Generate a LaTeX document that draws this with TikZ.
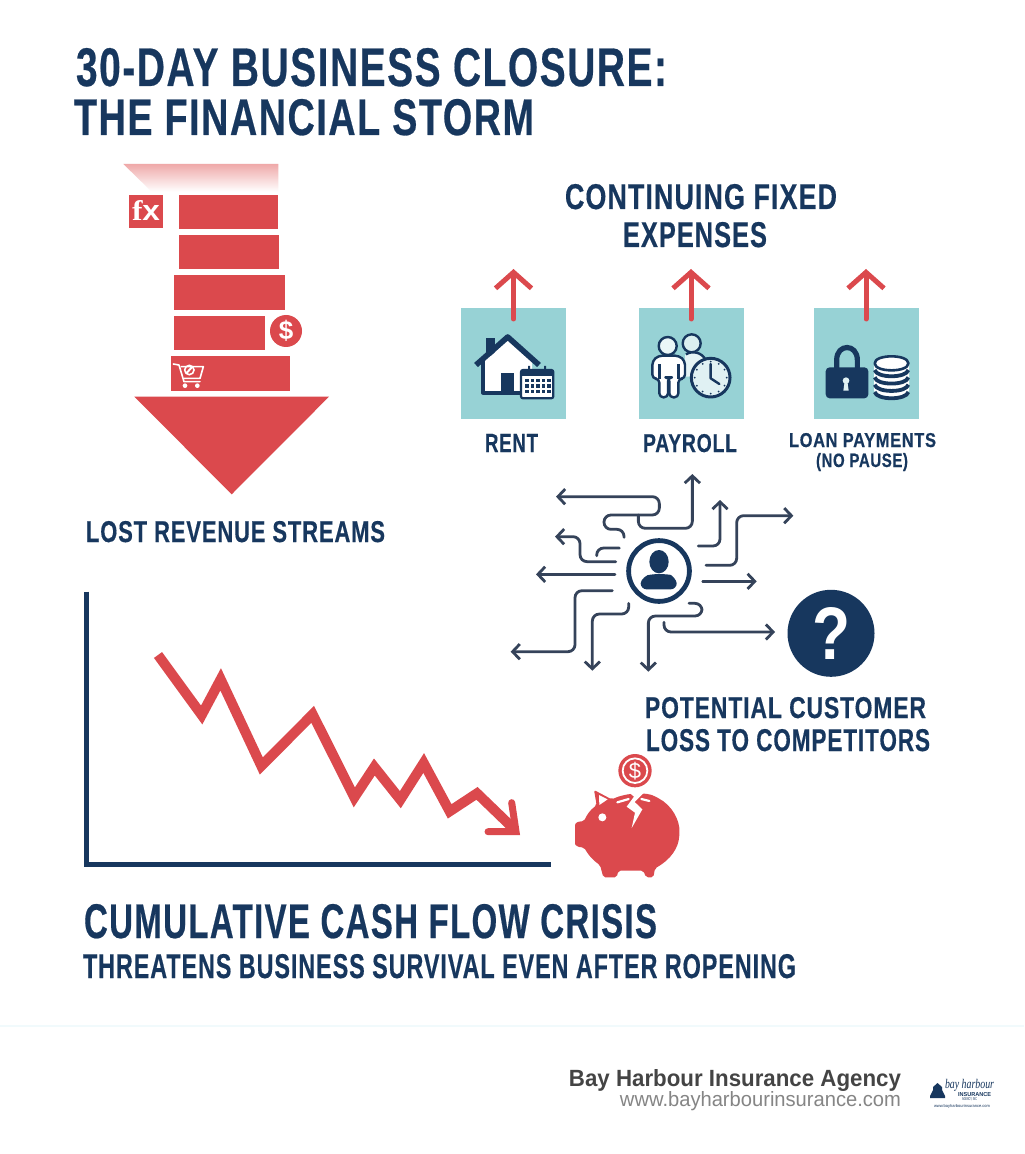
\documentclass[tikz,border=0pt]{standalone}
\usepackage{fontspec}
\usepackage{graphicx}
\setmainfont{Liberation Sans}[LetterSpace=4,BoldFeatures={FakeBold=0.5}]
\newfontfamily\plainf{Liberation Sans}
\newfontfamily\serifx{Liberation Serif}
\usetikzlibrary{arrows.meta}
\definecolor{navy}{HTML}{17375E}
\definecolor{redm}{HTML}{DB494D}
\definecolor{teal1}{HTML}{97D2D5}
\definecolor{slate}{HTML}{35435A}
\definecolor{foot}{HTML}{444444}
\definecolor{footl}{HTML}{858585}
\definecolor{pale}{HTML}{F1FAFC}
\definecolor{fade}{HTML}{EFA9A9}
\tikzset{
  lbl/.style={inner sep=0pt,outer sep=0pt,text=navy,anchor=base west},
  flow/.style={draw=slate,line width=1.4pt,rounded corners=3.5pt,line cap=round,-{Straight Barb[length=3.6pt,width=7.6pt]}},
  flowplain/.style={draw=slate,line width=1.4pt,rounded corners=3.5pt,line cap=round},
  uparrow/.style={draw=redm,line width=2.5pt,line cap=round,-{Straight Barb[length=8pt,width=18pt]}},
  sqbox/.style={fill=teal1,minimum width=52.5pt,minimum height=55.5pt,inner sep=0pt,outer sep=0pt},
  bar/.style={fill=redm},
}
\newcommand\ft[6]{\pgfmathsetmacro\ftw{(#3-#2)*0.5}\pgfmathsetmacro\fth{(#5-#4)*0.5}\node[lbl] (#1) at (#2,#5) {\resizebox{\ftw pt}{\fth pt}{\bfseries #6}};}
\begin{document}
\begin{tikzpicture}[x=0.5pt,y=-0.5pt]
\useasboundingbox (0,0) rectangle (1024,1154);
\fill[white] (0,0) rectangle (1024,1154);
\fill[pale] (0,1025) rectangle (1024,1027);
% titles
\ft{t1}{76}{667}{48}{86}{30-DAY BUSINESS CLOSURE:}
\ft{t2}{74}{534}{99}{135}{THE FINANCIAL STORM}
\ft{c1}{565}{837}{184}{209}{CONTINUING FIXED}
\ft{c2}{623}{767}{222}{247}{EXPENSES}
% falling revenue arrow
\shade[top color=fade,bottom color=white] (123.3,164) -- (278.3,164) -- (278.3,191.7) -- (151.7,191.7) -- cycle;
\fill[bar] (179,195) rectangle (278.3,229.3);
\fill[bar] (179.3,235.3) rectangle (278.7,269.3);
\fill[bar] (174,275.3) rectangle (285.3,310);
\fill[bar] (174,316) rectangle (264.7,350.3);
\fill[bar] (170.7,356.3) rectangle (290,391);
\fill[bar] (134.3,396.7) -- (329,396.7) -- (231.7,494.3) -- cycle;
\fill[bar] (128.7,194.7) rectangle (163.3,227.7);
\node[inner sep=0pt,text=white] (fx) at (146,211) {\resizebox{14pt}{10pt}{\serifx\bfseries f\plainf x}};
\node[circle,fill=redm,minimum size=16pt,inner sep=0pt] (dollar) at (286,331) {\textcolor{white}{\fontsize{13}{13}\selectfont\plainf\bfseries\$}};
% cart
\begin{scope}[shift={(110,150)},x=.16667pt,y=-.16667pt]
  \draw[white,line width=.8pt,line join=round,line cap=round] (190,642) -- (207,645) -- (222,695) -- (270,695);
  \draw[white,line width=.8pt,line join=round] (212,650) -- (280,650) -- (270,685) -- (222,685);
  \fill[white] (225,707) circle[radius=7] (262,707) circle[radius=7];
  \draw[white,line width=.8pt] (238,660) circle[radius=14];
  \draw[white,line width=1pt] (229,670) -- (247,650);
\end{scope}
\ft{lost}{86}{385}{521}{542}{LOST REVENUE STREAMS}
% expense boxes
\node[sqbox] (sq1) at (513.5,363.5) {};
\node[sqbox] (sq2) at (691,363.5) {};
\node[sqbox] (sq3) at (866,363.5) {};
\coordinate (up1) at (513.5,269);
\coordinate (up2) at (691,269);
\coordinate (up3) at (866,269);
\draw[uparrow] ([yshift=-5.5pt]sq1.north) -- (up1);
\draw[uparrow] ([yshift=-5.5pt]sq2.north) -- (up2);
\draw[uparrow] ([yshift=-5.5pt]sq3.north) -- (up3);
\ft{l1}{485}{538}{434}{452}{RENT}
\ft{l2}{643}{737}{434}{452}{PAYROLL}
\ft{l3}{789}{936}{433}{447}{LOAN PAYMENTS}
\ft{l4}{816}{908}{453}{467}{(NO PAUSE)}
% icons
\begin{scope}[line join=round]
  % house
  \fill[white] (483,392.7) -- (483,358) -- (507.7,338) -- (532,358) -- (532,392.7) -- cycle;
  \fill[navy] (486,338) rectangle (495,356);
  \fill[white] (484,362) -- (507.7,341) -- (530,362) -- cycle;
  \draw[navy,line width=2pt] (483,360) -- (483,392.7) -- (522,392.7);
  \draw[navy,line width=2.8pt] (476,365) -- (507.7,337) -- (539,365);
  \fill[navy] (501,373) rectangle (514,392.7);
  \fill[white] (521,370) rectangle (553.3,398.3);
  \draw[navy,line width=1.1pt,rounded corners=1pt] (521,370) rectangle (553.3,398.3);
  \fill[navy] (521,370) rectangle (553.3,376);
  \fill[navy] (528,366) rectangle (530,372) (544,366) rectangle (546,372);
  \foreach \cy in {380.5,386,391.5}{\foreach \cx in {527,532.5,538,543.5,549}{\fill[navy] (\cx-1.8,\cy-1.8) rectangle (\cx+1.8,\cy+1.8);}}
\end{scope}
\begin{scope}[shift={(440,260)},x=.16667pt,y=-.16667pt,line join=round]
  % second person
  \fill[teal1!35!white] (755,250) circle[radius=27];
  \draw[navy,line width=1.2pt] (755,250) circle[radius=27];
  \fill[teal1!25!white] (735,285) -- (770,275) .. controls (785,278) and (795,290) .. (798,310) -- (750,350) -- (735,350) -- cycle;
  \draw[navy,line width=1.2pt] (738,283) .. controls (755,272) and (785,275) .. (797,300);
  % first person
  \fill[teal1!20!white] (683,258) circle[radius=27];
  \draw[navy,line width=1.2pt] (683,258) circle[radius=27];
  \fill[white,draw=navy,line width=1.2pt,rounded corners=2pt] (655,287) -- (717,287) -- (735,303) -- (735,356) -- (715,356) -- (715,412) -- (688,412) -- (688,352) -- (684,352) -- (684,412) -- (658,412) -- (658,356) -- (637,356) -- (637,303) -- cycle;
  \draw[navy,line width=1.2pt] (658,312) -- (658,356) (715,312) -- (715,356);
  % clock
  \fill[teal1!30!white] (812,353) circle[radius=60];
  \draw[navy,line width=1.5pt] (812,353) circle[radius=58];
  \draw[navy,line width=1.2pt,line cap=round] (812,312) -- (812,355) -- (838,372);
  \foreach \a in {0,30,...,330}{\fill[navy] (812,353) ++(\a:48) circle[radius=3];}
  % lock
  \draw[navy,line width=2.6pt] (1190,330) -- (1190,300) .. controls (1190,250) and (1252,250) .. (1252,300) -- (1252,330);
  \fill[navy,rounded corners=2pt] (1157,322) rectangle (1285,415);
  \fill[teal1!30!white] (1218,362) circle[radius=10];
  \fill[teal1!30!white] (1214,364) -- (1222,364) -- (1226,392) -- (1210,392) -- cycle;
  % coins
  \fill[white] (1302,310) -- (1302,390) .. controls (1302,425) and (1407,425) .. (1407,390) -- (1407,310) .. controls (1407,280) and (1302,280) .. (1302,310) -- cycle;
  \draw[navy,line width=1.3pt] (1304,310) .. controls (1304,282) and (1405,282) .. (1405,310) .. controls (1405,338) and (1304,338) .. (1304,310) -- cycle;
  \foreach \yy in {330,352,374,396}{\draw[navy,line width=1.9pt] (1304,\yy) .. controls (1310,\yy+25) and (1399,\yy+25) .. (1405,\yy);}
\end{scope}
% customer network
\begin{scope}[shift={(500,460)},x=.16667pt,y=-.16667pt]
  \node[circle,draw=navy,line width=2.4pt,fill=white,minimum size=30.4pt,inner sep=0pt] (cust) at (477,333) {};
  \fill[navy] (477,305) ellipse[x radius=29,y radius=35];
  \fill[navy,rounded corners=3pt] (422,388) .. controls (422,355) and (445,345) .. (460,342) -- (494,342) .. controls (515,345) and (530,360) .. (530,388) -- cycle;
  \coordinate (a1) at (372,232); \coordinate (b1) at (168,110);
  \coordinate (a2) at (415,165); \coordinate (b2) at (577,42);
  \coordinate (a3) at (595,258); \coordinate (b3) at (660,120);
  \coordinate (a4) at (618,316); \coordinate (b4) at (880,167);
  \coordinate (a5) at (608,364); \coordinate (b5) at (770,364);
  \coordinate (a6) at (567,430); \coordinate (b6) at (445,635);
  \coordinate (a7) at (492,487); \coordinate (b7) at (825,516);
  \coordinate (a8) at (386,430); \coordinate (b8) at (277,632);
  \coordinate (a9) at (337,392); \coordinate (b9) at (32,575);
  \coordinate (a10) at (345,343); \coordinate (b10) at (108,343);
  \coordinate (a11) at (347,305); \coordinate (b11) at (165,230);
  \coordinate (a12) at (358,264); \coordinate (b12) at (290,287);
  \draw[flow] (a1) -- (372,208) -- (312,208) -- (312,165) -- (478,165) -- (478,110) -- (b1);
  \draw[flow] (a2) -- (415,205) -- (577,205) -- (b2);
  \draw[flow] (a3) -- (660,258) -- (b3);
  \draw[flow] (a4) -- (710,316) -- (710,167) -- (b4);
  \draw[flow] (a5) -- (b5);
  \draw[flow] (a6) -- (606,430) -- (606,468) -- (445,468) -- (b6);
  \draw[flow] (a7) -- (492,516) -- (b7);
  \draw[flow] (a8) -- (386,462) -- (277,462) -- (b8);
  \draw[flow] (a9) -- (225,392) -- (225,575) -- (b9);
  \draw[flow] (a10) -- (b10);
  \draw[flow] (a11) -- (240,305) -- (240,230) -- (b11);
  \draw[flowplain] (a12) -- (290,264) -- (b12);
\end{scope}
\node[circle,fill=navy,minimum size=43.5pt,inner sep=0pt] (ques) at (831,633.3) {\resizebox{19pt}{26pt}{\textcolor{white}{\plainf\bfseries ?}}};
\ft{p1}{645}{926}{697}{718}{POTENTIAL CUSTOMER}
\ft{p2}{646}{930}{729}{751}{LOSS TO COMPETITORS}
% chart
\begin{scope}[shift={(70,580)},x=.16667pt,y=-.16667pt]
  \draw[navy,line width=2.5pt,line join=miter] (50,35) -- (50,852) -- (1442,852);
  \draw[redm,line width=5pt,line join=miter] (264,225) -- (395,405) -- (452,298) -- (574,558) -- (728,403) -- (853,652) -- (913,561) -- (991,659) -- (1061,549) -- (1139,694) -- (1221,640) -- (1335,750);
  \draw[redm,line width=3.5pt,line join=miter,line cap=round] (1325,668) -- (1338,755) -- (1254,755);
\end{scope}
% piggy
\begin{scope}[shift={(540,740)},x=.16667pt,y=-.16667pt]
  \fill[redm] (285,92) circle[radius=50];
  \draw[white,line width=.9pt] (285,92) circle[radius=37];
  \node[text=white,inner sep=0pt] (coin) at (285,92) {\fontsize{11}{11}\selectfont\plainf\$};
  \fill[redm,rounded corners=1pt] (105,262) .. controls (105,248) and (115,244) .. (132,244)
    .. controls (140,225) and (152,208) .. (170,196) -- (162,150) -- (215,178)
    .. controls (260,158) and (320,155) .. (350,172) .. controls (395,195) and (420,240) .. (418,282)
    .. controls (416,325) and (390,360) .. (345,385) -- (340,412) -- (318,412) -- (310,392) -- (235,392) -- (230,412) -- (190,412) -- (180,375)
    .. controls (160,362) and (145,345) .. (132,322) .. controls (115,322) and (105,316) .. (105,305) -- cycle;
  \fill[white] (177,165) -- (203,178) -- (178,195) -- cycle;
  \fill[white] (187,232) circle[radius=12];
  \fill[white] (268,158) -- (312,158) -- (284,186) -- (307,208) -- (275,264) -- (285,218) -- (260,200) -- (282,170) -- cycle;
  \draw[white,line width=1.1pt,line cap=round] (232,187) -- (266,177);
  \draw[white,line width=1.1pt,line cap=round] (304,177) -- (328,183);
\end{scope}
\ft{cum}{84}{657}{904}{938}{CUMULATIVE CASH FLOW CRISIS}
\ft{thr}{83}{796}{954}{978}{THREATENS BUSINESS SURVIVAL EVEN AFTER ROPENING}
% footer
\node[lbl,text=foot,anchor=base east] (bh) at (901,1086) {\resizebox{166pt}{8.5pt}{\plainf\bfseries Bay Harbour Insurance Agency}};
\node[lbl,text=footl,anchor=base east] (url) at (901,1106) {\resizebox{140.5pt}{7.5pt}{\plainf www.bayharbourinsurance.com}};
% logo
\fill[navy] (930,1096) -- (933,1090) -- (933,1087) -- (937.5,1083) -- (942,1087) -- (942,1090) -- (945,1096) -- (945,1098) -- (930,1098) -- cycle;
\node[lbl] (lg1) at (945,1088.5) {\resizebox{24.5pt}{4.6pt}{\serifx\itshape bay harbour}};
\node[lbl] (lg2) at (958,1096) {\resizebox{16.5pt}{2pt}{\plainf\bfseries INSURANCE}};
\node[lbl] (lg3) at (962,1100) {\resizebox{7.5pt}{1.5pt}{\plainf AGENCY, INC}};
\node[lbl] (lg4) at (934,1107) {\resizebox{28pt}{1.5pt}{\plainf www.bayharbourinsurance.com}};
\end{tikzpicture}
\end{document}
